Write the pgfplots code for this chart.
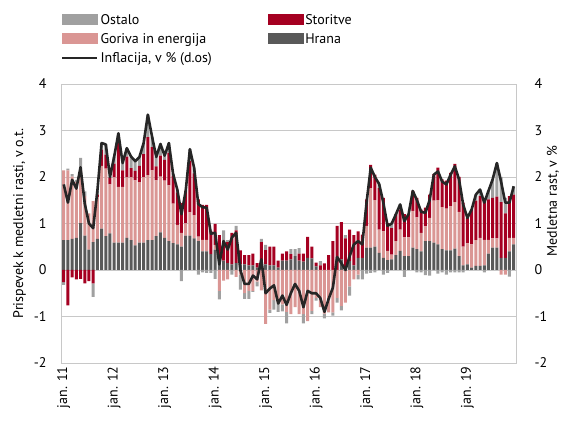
\documentclass[border=0pt]{standalone}
\usepackage{fontspec}
\setmainfont{PT Sans}
\usepackage{pgfplots}
\usepackage{pgfplotstable}
\pgfplotsset{compat=1.18}

\definecolor{hrana}{RGB}{89,89,89}
\definecolor{goriva}{RGB}{218,150,148}
\definecolor{storitve}{RGB}{165,0,33}
\definecolor{ostalo}{RGB}{160,160,160}
\definecolor{lineblack}{RGB}{38,38,38}
\definecolor{gridgray}{RGB}{200,200,200}

% i = month index from jan. 2011; H hrana, G goriva in energija, S storitve, O ostalo, L inflacija
\pgfplotstableread{
i H G S O L
0 0.64 1.50 -0.26 -0.06 1.84
1 0.64 1.50 -0.76 0.04 1.45
2 0.67 1.34 -0.16 0.05 1.94
3 0.69 1.20 -0.20 0.05 1.75
4 1.01 1.15 -0.19 0.25 2.21
5 0.74 0.85 -0.29 0.10 1.43
6 0.44 0.78 -0.24 0.00 1.00
7 0.60 0.88 -0.29 -0.29 0.90
8 0.67 0.90 0.05 0.08 1.70
9 0.89 1.35 0.35 0.14 2.73
10 0.73 1.45 0.30 0.22 2.70
11 0.79 1.05 0.15 0.01 2.00
12 0.59 1.40 0.30 0.15 2.44
13 0.59 1.20 0.95 0.20 2.94
14 0.59 1.20 0.35 0.16 2.30
15 0.69 1.30 0.45 0.18 2.62
16 0.64 1.35 0.20 0.25 2.44
17 0.53 1.40 0.20 0.21 2.34
18 0.59 1.30 0.35 0.19 2.43
19 0.59 1.40 0.50 0.24 2.73
20 0.64 1.40 0.82 0.48 3.34
21 0.64 1.50 0.50 0.23 2.87
22 0.73 1.20 0.30 0.20 2.43
23 0.81 1.20 0.45 0.25 2.71
24 0.69 1.23 0.45 0.09 2.46
25 0.62 1.20 0.70 0.21 2.73
26 0.58 0.85 0.60 0.04 2.07
27 0.55 0.42 0.70 0.06 1.73
28 0.50 0.30 0.64 -0.24 1.20
29 0.74 0.26 0.70 0.00 1.70
30 0.74 0.50 1.10 0.26 2.60
31 0.68 0.50 0.90 0.12 2.20
32 0.62 0.10 0.80 -0.10 1.42
33 0.40 0.25 0.75 -0.05 1.35
34 0.40 0.25 0.75 -0.06 1.34
35 0.34 0.00 0.50 -0.06 0.78
36 0.44 0.10 0.45 -0.19 0.80
37 0.30 -0.45 0.45 -0.18 0.12
38 0.20 -0.23 0.35 0.30 0.62
39 0.15 -0.20 0.45 0.04 0.44
40 0.12 0.00 0.68 -0.10 0.70
41 0.15 -0.15 0.70 0.10 0.80
42 0.12 -0.10 0.30 -0.32 0.00
43 0.12 -0.50 0.20 -0.12 -0.30
44 0.10 -0.45 0.22 -0.17 -0.30
45 0.10 -0.45 0.25 -0.02 -0.12
46 0.05 -0.25 0.10 -0.10 -0.20
47 0.10 -0.44 0.50 0.07 0.23
48 0.12 -1.16 0.31 0.11 -0.50
49 0.10 -0.85 0.40 -0.07 -0.40
50 0.10 -0.65 0.40 -0.20 -0.33
51 0.05 -0.70 0.15 -0.20 -0.72
52 0.20 -0.74 0.15 -0.15 -0.55
53 0.20 -0.90 0.20 -0.25 -0.75
54 0.23 -0.95 0.11 0.11 -0.50
55 0.30 -0.80 0.00 0.15 -0.30
56 0.20 -0.95 0.15 0.12 -0.45
57 0.18 -0.95 0.17 -0.20 -0.80
58 0.26 -1.10 0.45 0.00 -0.45
59 0.25 -0.88 0.25 -0.07 -0.50
60 0.08 -0.60 0.08 -0.06 -0.50
61 0.00 -0.80 0.10 0.09 -0.60
62 0.00 -0.94 0.14 -0.10 -0.90
63 0.00 -0.91 0.32 0.00 -0.62
64 0.00 -0.91 0.62 -0.07 -0.38
65 0.00 -0.60 0.95 -0.10 0.28
66 0.23 -0.77 0.80 -0.10 0.15
67 0.00 -0.70 0.68 0.07 0.00
68 0.19 -0.35 0.68 -0.20 0.30
69 0.10 -0.20 0.65 0.00 0.55
70 0.26 -0.10 0.57 -0.10 0.62
71 0.26 0.00 0.50 -0.20 0.55
72 0.48 0.47 0.57 -0.08 1.44
73 0.48 1.28 0.50 -0.06 2.20
74 0.50 1.00 0.55 -0.05 2.00
75 0.37 0.50 0.89 0.09 1.85
76 0.26 0.57 0.72 -0.10 1.45
77 0.21 0.20 0.60 -0.06 0.95
78 0.23 0.10 0.57 0.10 1.00
79 0.32 0.30 0.58 0.00 1.20
80 0.41 0.46 0.43 0.11 1.41
81 0.30 0.40 0.50 -0.15 1.05
82 0.30 0.40 0.50 0.00 1.20
83 0.48 0.79 0.43 0.00 1.70
84 0.45 0.68 0.42 -0.05 1.50
85 0.40 0.40 0.50 -0.05 1.25
86 0.62 0.32 0.40 -0.11 1.23
87 0.62 0.50 0.50 -0.12 1.50
88 0.59 0.90 0.57 -0.01 2.05
89 0.55 0.95 0.70 -0.08 2.12
90 0.45 0.90 0.60 -0.05 1.90
91 0.42 0.90 0.60 -0.10 1.84
92 0.42 0.95 0.72 -0.05 2.05
93 0.46 1.00 0.82 -0.05 2.23
94 0.30 0.95 0.75 -0.05 1.95
95 0.10 0.40 0.95 -0.05 1.40
96 0.12 0.45 0.55 0.00 1.12
97 0.05 0.50 0.75 0.00 1.30
98 0.09 0.55 0.85 0.13 1.62
99 0.09 0.60 0.90 0.14 1.73
100 0.10 0.55 0.85 -0.05 1.45
101 0.35 0.30 0.87 0.18 1.70
102 0.48 0.20 0.87 0.40 1.95
103 0.48 0.20 0.90 0.72 2.30
104 0.26 -0.10 1.20 0.54 1.90
105 0.26 -0.10 0.96 0.33 1.45
106 0.40 0.29 0.90 -0.14 1.45
107 0.55 0.14 0.93 0.18 1.80
}\infl

\pgfplotsset{
  base/.style={
    scale only axis, width=455pt, height=279pt,
    at={(61pt,59pt)}, anchor=south west,
    xmin=-0.65, xmax=107.55, ymin=-2, ymax=4,
    /pgf/number format/assume math mode=true,
  },
  bars/.style={ybar stacked, bar width=3pt},
}

\begin{document}
\begin{tikzpicture}[font=\fontsize{14}{16}\selectfont]
\useasboundingbox (0,0) rectangle (562pt,422pt);

% positive parts, grid, left axis, legend
\begin{axis}[base, bars,
  axis line style={draw=gridgray},
  ymajorgrids, grid style={gridgray, line width=0.8pt},
  ytick={-2,-1,0,1,2,3,4}, ytick pos=left,
  yticklabel style={xshift=-11pt},
  xtick={0,12,24,36,48,60,72,84,96}, xtick pos=bottom,
  xticklabels={jan. 11,jan. 12,jan. 13,jan. 14,jan. 15,jan. 16,jan. 17,jan. 18,jan. 19},
  xticklabel style={rotate=90, anchor=east},
  major tick length=0pt,
  ylabel={Prispevek k medletni rasti, v o.t.},
  ylabel style={yshift=1pt},
  legend columns=2,
  legend cell align=left,
  legend style={at={(0,1.062)}, anchor=south west, draw=none, fill=none,
    row sep=4pt, inner sep=0pt,
    /tikz/every even column/.append style={column sep=54pt}},
]
\addlegendimage{legend image code/.code={\fill[ostalo] (0pt,-4pt) rectangle (35pt,6pt);}}
\addlegendentry{Ostalo}
\addlegendimage{legend image code/.code={\fill[storitve] (0pt,-4pt) rectangle (35pt,6pt);}}
\addlegendentry{Storitve}
\addlegendimage{legend image code/.code={\fill[goriva] (0pt,-4pt) rectangle (35pt,6pt);}}
\addlegendentry{Goriva in energija}
\addlegendimage{legend image code/.code={\fill[hrana] (0pt,-4pt) rectangle (35pt,6pt);}}
\addlegendentry{Hrana}
\addlegendimage{legend image code/.code={\draw[lineblack, line width=2.4pt] (0pt,1pt) -- (35pt,1pt);}}
\addlegendentry{Inflacija, v \% (d.os)}
\addplot[fill=hrana, draw=none, forget plot] table[x=i, y expr={max(\thisrow{H},0)}] {\infl};
\addplot[fill=goriva, draw=none, forget plot] table[x=i, y expr={max(\thisrow{G},0)}] {\infl};
\addplot[fill=storitve, draw=none, forget plot] table[x=i, y expr={max(\thisrow{S},0)}] {\infl};
\addplot[fill=ostalo, draw=none, forget plot] table[x=i, y expr={max(\thisrow{O},0)}] {\infl};
\end{axis}

% negative parts, stacked downward from zero
\begin{axis}[base, bars, hide axis]
\addplot[fill=hrana, draw=none] table[x=i, y expr={min(\thisrow{H},0)}] {\infl};
\addplot[fill=goriva, draw=none] table[x=i, y expr={min(\thisrow{G},0)}] {\infl};
\addplot[fill=storitve, draw=none] table[x=i, y expr={min(\thisrow{S},0)}] {\infl};
\addplot[fill=ostalo, draw=none] table[x=i, y expr={min(\thisrow{O},0)}] {\infl};
\end{axis}

% inflation line, right axis
\begin{axis}[base,
  axis x line=none, axis y line*=right,
  axis line style={draw=gridgray},
  ytick={-2,-1,0,1,2,3,4},
  yticklabel style={xshift=15pt},
  major tick length=0pt,
  ylabel={Medletna rast, v \%},
  ylabel style={at={([xshift=37pt]axis description cs:1,0.58)}, anchor=center},
]
\addplot[lineblack, line width=2.6pt, line join=round, mark=none] table[x=i, y=L] {\infl};
\end{axis}
\end{tikzpicture}
\end{document}
